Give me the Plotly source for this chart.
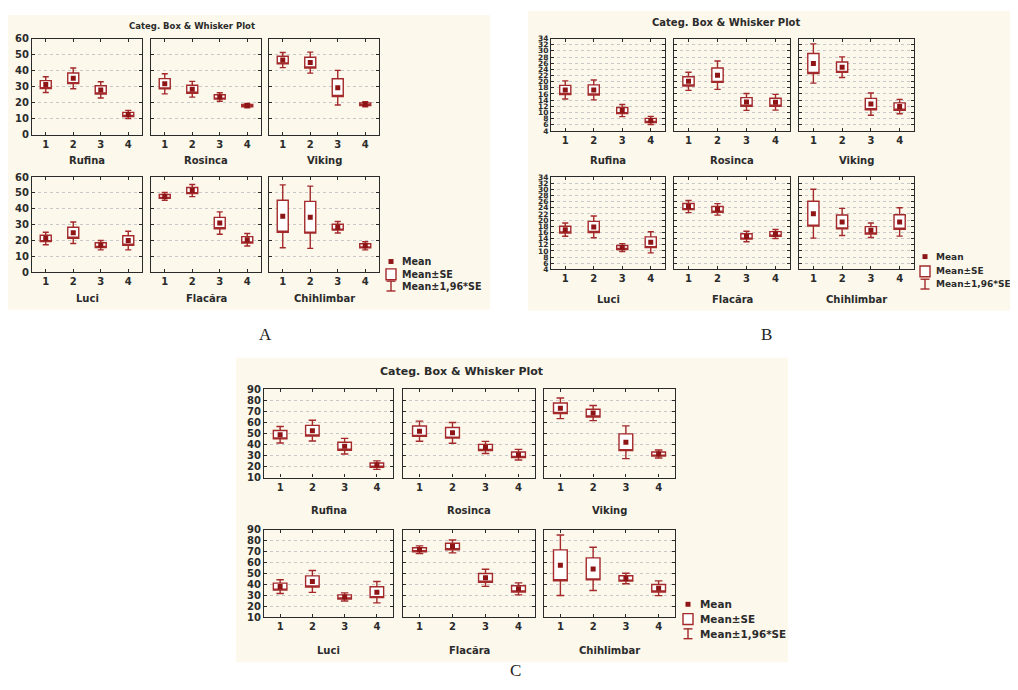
import plotly.graph_objects as go

W, H = 1018, 690          # reference picture size (pixels)
OFF = 8                   # default page body margin
FW, FH = W - 2 * OFF, H - 2 * OFF   # figure size so the page fits the window exactly

CATEGORIES = [1, 2, 3, 4]
TICK_LABELS = ["1", "2", "3", "4"]
CULTIVARS = ["Rufina", "Rosinca", "Viking", "Luci", "Flacăra", "Chihlimbar"]
LEGEND_LABELS = ["Mean", "Mean±SE", "Mean±1,96*SE"]
TITLE = "Categ. Box & Whisker Plot"
WHISKER_FACTOR = 1.96

# ---------------- Panel A ----------------
a_rufina_mean = [31.3, 35.2, 28.0, 12.7]
a_rufina_se = [2.5, 3.3, 2.6, 1.3]
a_rosinca_mean = [31.8, 28.4, 23.6, 18.2]
a_rosinca_se = [3.2, 2.5, 1.35, 0.7]
a_viking_mean = [46.6, 45.0, 29.4, 19.1]
a_viking_se = [2.4, 3.35, 5.5, 0.8]
a_luci_mean = [21.3, 24.9, 17.1, 20.0]
a_luci_se = [2.0, 3.45, 1.5, 3.0]
a_flacara_mean = [47.8, 51.5, 31.0, 20.5]
a_flacara_se = [1.25, 1.95, 3.6, 2.0]
a_chihlimbar_mean = [35.3, 34.7, 28.4, 16.7]
a_chihlimbar_se = [10.1, 10.0, 1.85, 1.3]

# ---------------- Panel B ----------------
b_rufina_mean = [17.3, 17.3, 10.6, 7.4]
b_rufina_se = [1.5, 1.65, 1.0, 0.67]
b_rosinca_mean = [20.1, 22.1, 13.4, 13.3]
b_rosinca_se = [1.5, 2.35, 1.4, 1.3]
b_viking_mean = [25.9, 24.7, 12.7, 11.9]
b_viking_se = [3.25, 1.7, 1.85, 1.2]
b_luci_mean = [16.9, 17.8, 11.1, 12.8]
b_luci_se = [1.1, 1.8, 0.65, 1.75]
b_flacara_mean = [24.4, 23.5, 14.7, 15.5]
b_flacara_se = [1.0, 0.95, 0.87, 0.75]
b_chihlimbar_mean = [22.1, 19.4, 16.7, 19.4]
b_chihlimbar_se = [4.05, 2.25, 1.2, 2.35]

# ---------------- Panel C ----------------
c_rufina_mean = [48.8, 52.5, 38.4, 21.3]
c_rufina_se = [3.8, 4.8, 3.6, 1.95]
c_rosinca_mean = [52.0, 50.5, 37.3, 30.7]
c_rosinca_se = [4.65, 4.8, 2.8, 2.45]
c_viking_mean = [72.7, 68.4, 42.0, 31.3]
c_viking_se = [4.75, 3.5, 7.55, 1.85]
c_luci_mean = [37.9, 42.6, 28.4, 32.8]
c_luci_se = [3.2, 5.1, 1.9, 5.0]
c_flacara_mean = [71.6, 74.6, 45.9, 35.8]
c_flacara_se = [1.8, 3.0, 4.0, 2.8]
c_chihlimbar_mean = [57.4, 54.1, 45.3, 36.4]
c_chihlimbar_se = [14.1, 10.1, 2.45, 3.45]

PANEL_DATA = {
    "A": [(a_rufina_mean, a_rufina_se), (a_rosinca_mean, a_rosinca_se),
          (a_viking_mean, a_viking_se), (a_luci_mean, a_luci_se),
          (a_flacara_mean, a_flacara_se), (a_chihlimbar_mean, a_chihlimbar_se)],
    "B": [(b_rufina_mean, b_rufina_se), (b_rosinca_mean, b_rosinca_se),
          (b_viking_mean, b_viking_se), (b_luci_mean, b_luci_se),
          (b_flacara_mean, b_flacara_se), (b_chihlimbar_mean, b_chihlimbar_se)],
    "C": [(c_rufina_mean, c_rufina_se), (c_rosinca_mean, c_rosinca_se),
          (c_viking_mean, c_viking_se), (c_luci_mean, c_luci_se),
          (c_flacara_mean, c_flacara_se), (c_chihlimbar_mean, c_chihlimbar_se)],
}

# ---------------- Layout (reference pixels) ----------------
PANELS = {
    "A": dict(bg=(7, 9, 490, 309), cols=[(32, 142), (151, 261), (269, 379)],
              rows=[(33, 131), (174, 271)], yrange=[0, 60], dtick=10,
              title=(192, 20, 8.5), catlab_y=[157, 298], ytick_size=10,
              legend=dict(ix=391, tx=400, ys=[260, 273, 285], size=9.6),
              letter=(265, 334), box_w=0.4),
    "B": dict(bg=(528, 5, 1018, 310), cols=[(551, 665), (674, 790), (799, 914)],
              rows=[(33, 127), (174, 268)], yrange=[4, 34], dtick=2,
              title=(726, 17, 10), catlab_y=[157, 299], ytick_size=7.5,
              legend=dict(ix=925, tx=934, ys=[255, 270, 283], size=9.0),
              letter=(766, 334), box_w=0.39),
    "C": dict(bg=(236, 358, 788, 668), cols=[(264, 393), (403, 535), (544, 675)],
              rows=[(390, 480), (533, 622)], yrange=[10, 90], dtick=10,
              title=(461, 372, 11), catlab_y=[514, 656], ytick_size=10,
              legend=dict(ix=688, tx=698, ys=[609, 624, 639], size=10.4),
              letter=(515, 676), box_w=0.42),
}

FONT = "DejaVu Sans"
TXT = "#2b2b2b"
BOX_COLOR = "#a3292b"
MEAN_COLOR = "#8e1416"
FRAME = "#2a2a2a"
BEIGE = "#fcf8ec"


def px(x):
    return (x - OFF) / FW


def py(y):
    return 1 - (y - OFF) / FH


fig = go.Figure()
layout = dict(
    width=FW, height=FH, margin=dict(l=0, r=0, t=0, b=0),
    paper_bgcolor="white", plot_bgcolor="white", showlegend=False,
)
shapes = []
annotations = []

n = 0
for key, cfg in PANELS.items():
    x0, y0, x1, y1 = cfg["bg"]
    shapes.append(dict(type="rect", xref="paper", yref="paper", x0=px(x0), x1=px(x1),
                       y0=py(y1), y1=py(y0), fillcolor=BEIGE, line=dict(width=0),
                       layer="below"))
    tx, ty, ts = cfg["title"]
    annotations.append(dict(text=TITLE, x=px(tx), y=py(ty), xref="paper", yref="paper",
                            showarrow=False, xanchor="center", yanchor="middle",
                            font=dict(family=FONT, size=ts, color=TXT, weight="bold")))
    lx, ly = cfg["letter"]
    annotations.append(dict(text=key, x=px(lx), y=py(ly), xref="paper", yref="paper",
                            showarrow=False, xanchor="center", yanchor="middle",
                            font=dict(family="Liberation Serif", size=17, color="#222")))

    for j, (means, ses) in enumerate(PANEL_DATA[key]):
        n += 1
        r, c = divmod(j, 3)
        cx0, cx1 = cfg["cols"][c]
        ry0, ry1 = cfg["rows"][r]
        xa = "x" if n == 1 else f"x{n}"
        ya = "y" if n == 1 else f"y{n}"
        lo = [m - s for m, s in zip(means, ses)]
        hi = [m + s for m, s in zip(means, ses)]
        wlo = [m - WHISKER_FACTOR * s for m, s in zip(means, ses)]
        whi = [m + WHISKER_FACTOR * s for m, s in zip(means, ses)]
        fig.add_trace(go.Box(
            x=CATEGORIES, q1=lo, median=lo, q3=hi, lowerfence=wlo, upperfence=whi,
            width=cfg["box_w"], whiskerwidth=0.55, boxpoints=False,
            fillcolor="white", line=dict(color=BOX_COLOR, width=1.4),
            xaxis=xa, yaxis=ya, hoverinfo="skip", name=LEGEND_LABELS[1]))
        fig.add_trace(go.Scatter(
            x=CATEGORIES, y=means, mode="markers",
            marker=dict(symbol="square", size=5, color=MEAN_COLOR, line=dict(width=0)),
            xaxis=xa, yaxis=ya, hoverinfo="skip", name=LEGEND_LABELS[0]))

        suffix = "" if n == 1 else str(n)
        layout["xaxis" + suffix] = dict(
            domain=[px(cx0), px(cx1)], anchor=ya, range=[0.5, 4.5],
            tickmode="array", tickvals=CATEGORIES, ticktext=TICK_LABELS,
            ticks="inside", ticklen=3, tickcolor=FRAME, tickwidth=1,
            showline=True, linecolor=FRAME, linewidth=1.2, mirror="allticks",
            showgrid=False, zeroline=False,
            tickfont=dict(family=FONT, size=10, color=TXT, weight="bold"))
        layout["yaxis" + suffix] = dict(
            domain=[py(ry1), py(ry0)], anchor=xa, range=cfg["yrange"],
            tick0=cfg["yrange"][0], dtick=cfg["dtick"],
            ticks="inside", ticklen=3, tickcolor=FRAME, tickwidth=1,
            showline=True, linecolor=FRAME, linewidth=1.2, mirror="allticks",
            showgrid=True, gridcolor="#c8c8c8", griddash="dot", gridwidth=1,
            zeroline=False, showticklabels=(c == 0),
            tickfont=dict(family=FONT, size=cfg["ytick_size"], color=TXT, weight="bold"))

        annotations.append(dict(text=CULTIVARS[j], x=px((cx0 + cx1) / 2),
                                y=py(cfg["catlab_y"][r]), xref="paper", yref="paper",
                                showarrow=False, xanchor="center", yanchor="middle",
                                font=dict(family=FONT, size=10, color=TXT, weight="bold")))

    # legend
    lg = cfg["legend"]
    ix = lg["ix"]
    y_mean, y_se, y_ci = lg["ys"]
    shapes.append(dict(type="rect", xref="paper", yref="paper",
                       x0=px(ix - 2.5), x1=px(ix + 2.5), y0=py(y_mean + 2.5), y1=py(y_mean - 2.5),
                       fillcolor=MEAN_COLOR, line=dict(width=0)))
    shapes.append(dict(type="rect", xref="paper", yref="paper",
                       x0=px(ix - 5), x1=px(ix + 5), y0=py(y_se + 5.5), y1=py(y_se - 5.5),
                       fillcolor="white", line=dict(color=BOX_COLOR, width=1.4)))
    for (ax0, ay0, ax1, ay1) in [(ix, y_ci - 5, ix, y_ci + 5),
                                 (ix - 4.5, y_ci - 5, ix + 4.5, y_ci - 5),
                                 (ix - 4.5, y_ci + 5, ix + 4.5, y_ci + 5)]:
        shapes.append(dict(type="line", xref="paper", yref="paper",
                           x0=px(ax0), x1=px(ax1), y0=py(ay0), y1=py(ay1),
                           line=dict(color=BOX_COLOR, width=1.4)))
    for lab, yy in zip(LEGEND_LABELS, lg["ys"]):
        annotations.append(dict(text=lab, x=px(lg["tx"]), y=py(yy), xref="paper", yref="paper",
                                showarrow=False, xanchor="left", yanchor="middle",
                                font=dict(family=FONT, size=lg["size"], color=TXT, weight="bold")))

layout["shapes"] = shapes
layout["annotations"] = annotations
fig.update_layout(**layout)
fig.write_html("out.html")
